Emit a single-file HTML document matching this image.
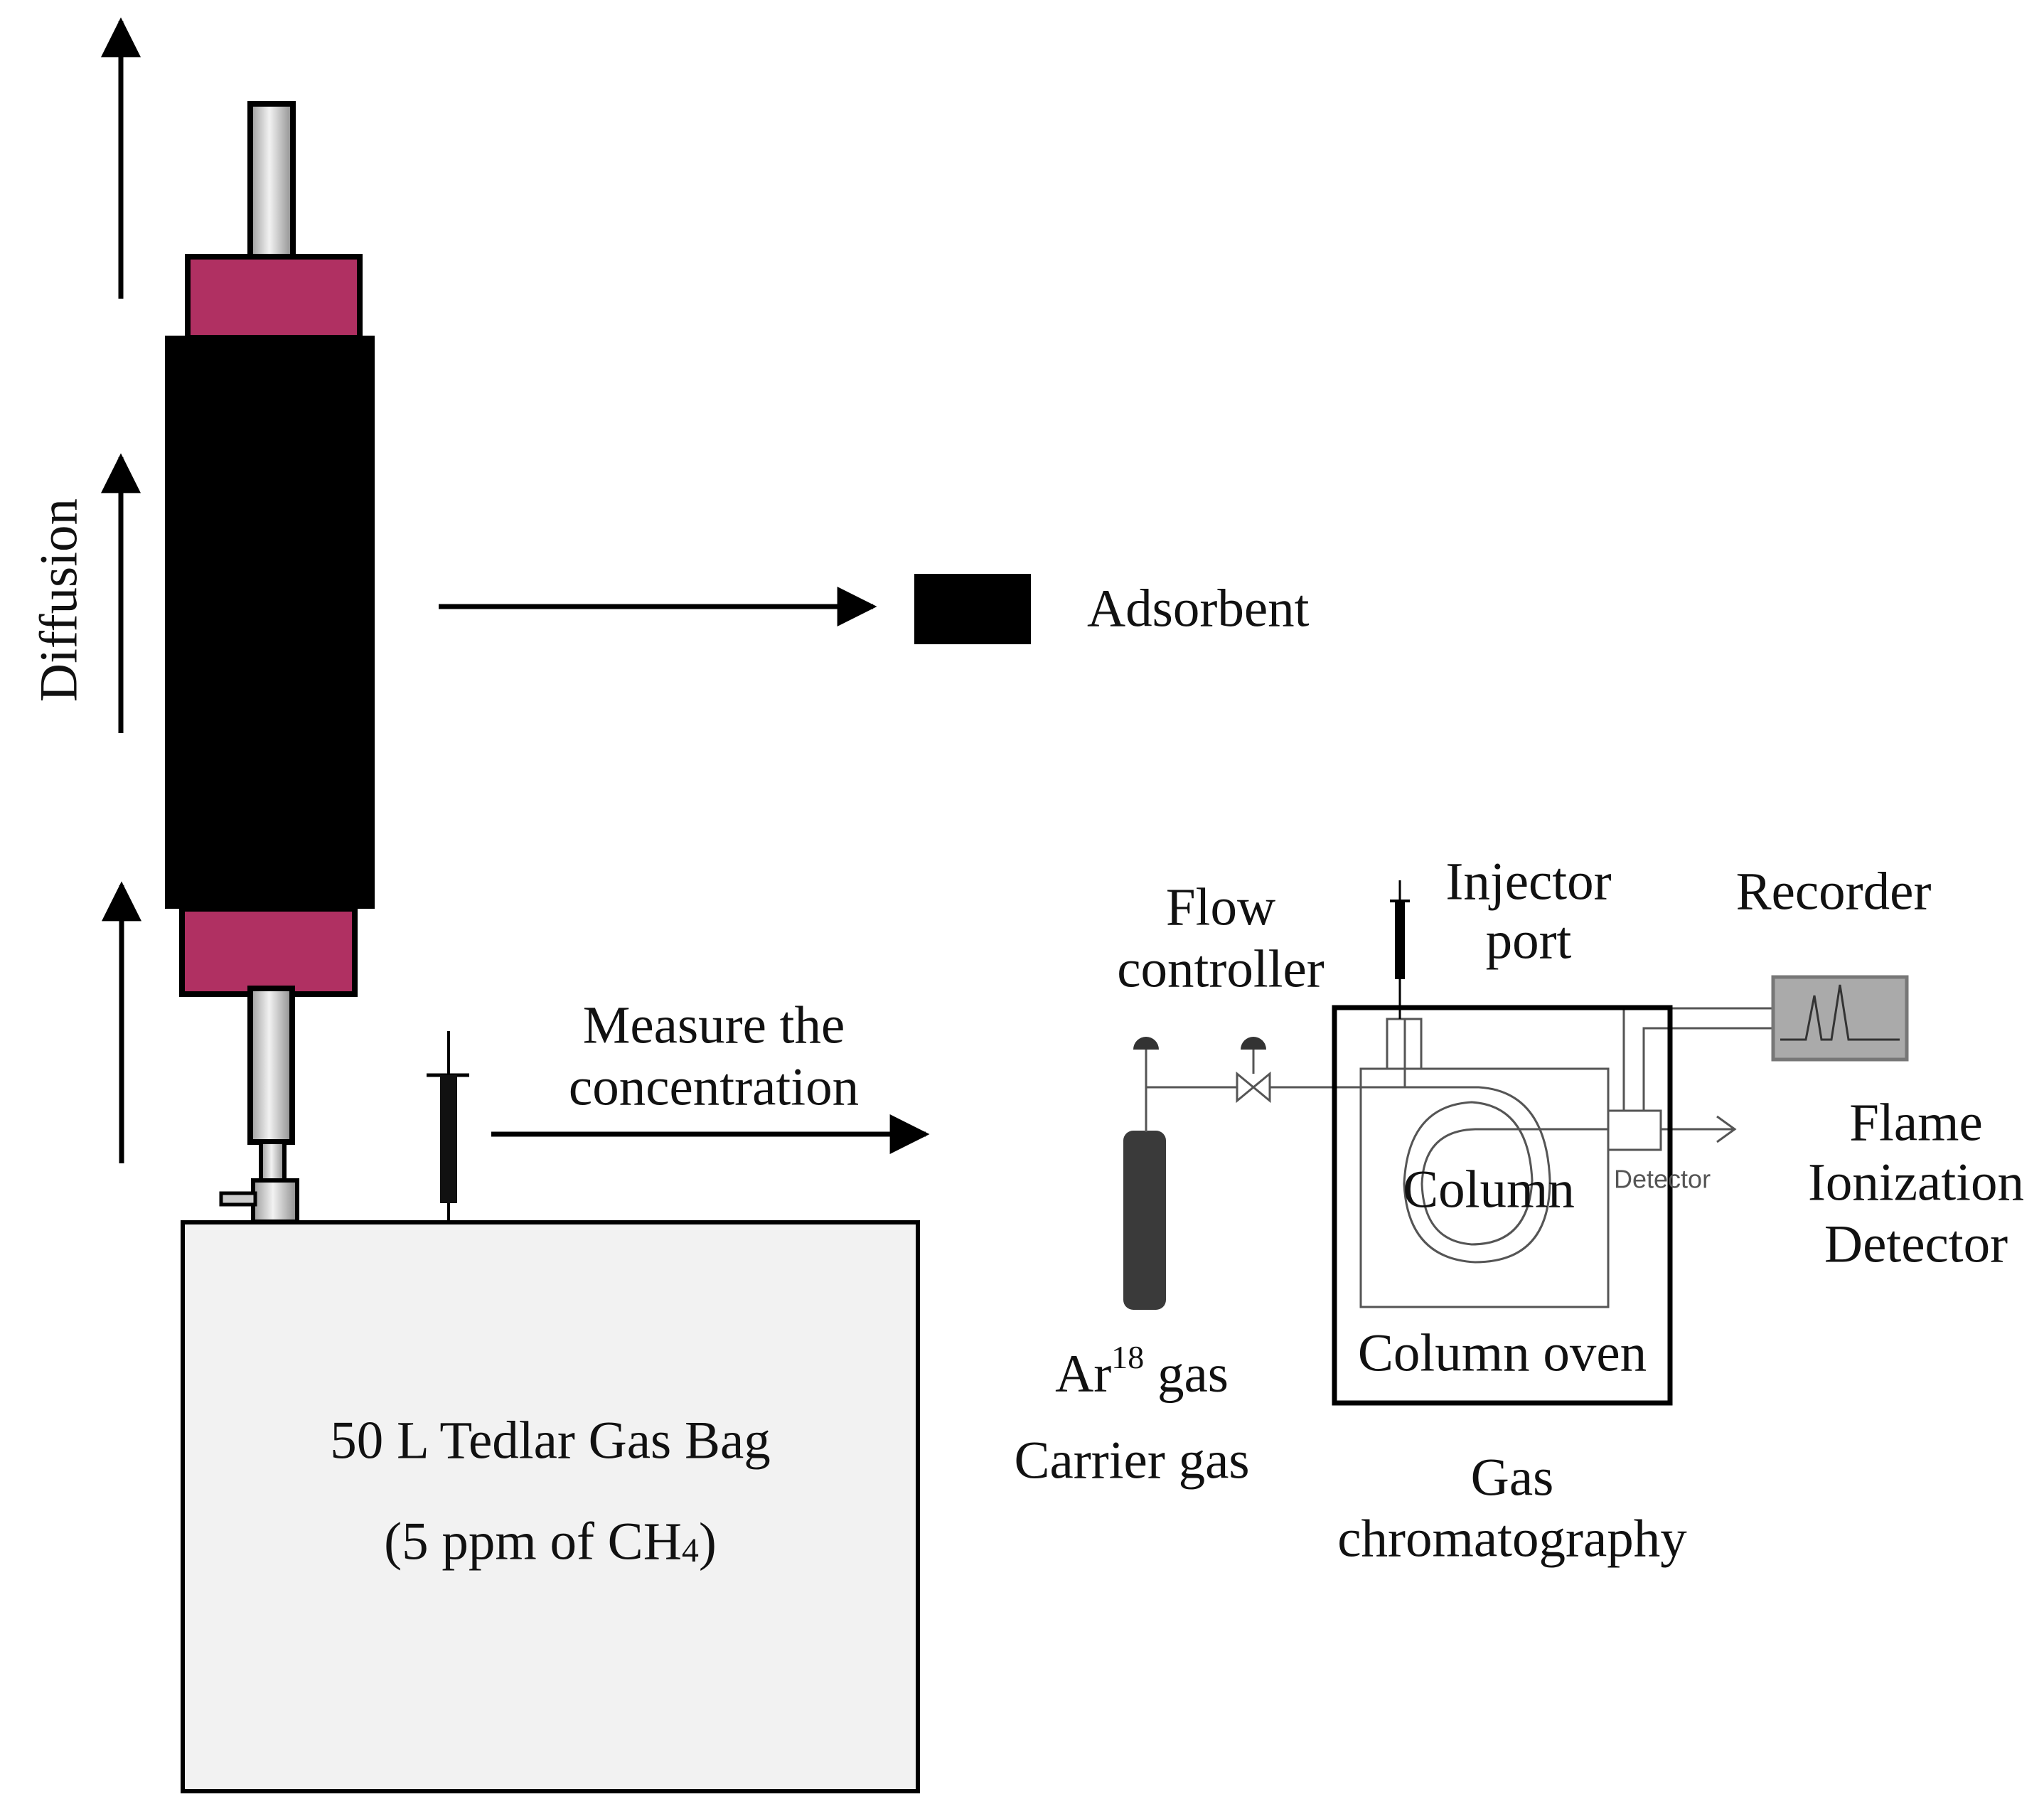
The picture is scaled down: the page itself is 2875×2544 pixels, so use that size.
<!DOCTYPE html>
<html><head><meta charset="utf-8"><style>
html,body{margin:0;padding:0;background:#fff;}
svg{display:block;}
text{font-family:"Liberation Serif",serif;font-size:75px;fill:#111;}
</style></head><body>
<svg width="2875" height="2544" viewBox="0 0 2875 2544" xmlns="http://www.w3.org/2000/svg">
<defs>
<linearGradient id="rod" x1="0" x2="1" y1="0" y2="0">
<stop offset="0" stop-color="#9a9a9a"/><stop offset="0.45" stop-color="#f2f2f2"/><stop offset="1" stop-color="#8c8c8c"/>
</linearGradient>
<marker id="ah" viewBox="0 0 10 10" refX="9" refY="5" markerWidth="8" markerHeight="8" markerUnits="strokeWidth" orient="auto">
<path d="M0,0 L10,5 L0,10 z" fill="#000"/></marker>
</defs>

<g stroke="#000" stroke-width="7" marker-end="url(#ah)">
<line x1="170" y1="420" x2="170" y2="30"/>
<line x1="170" y1="1031" x2="170" y2="643"/>
<line x1="171" y1="1636" x2="171" y2="1245"/>
<line x1="617" y1="853" x2="1228" y2="853"/>
<line x1="691" y1="1595" x2="1302" y2="1595"/>
</g>
<text x="83" y="844" text-anchor="middle" dominant-baseline="central" transform="rotate(-90 83 844)">Diffusion</text>

<rect x="352" y="146" width="60" height="222" fill="url(#rod)" stroke="#000" stroke-width="8"/>
<rect x="264" y="361" width="242" height="114" fill="#b03062" stroke="#000" stroke-width="8"/>
<rect x="232" y="472" width="295" height="806" fill="#000"/>
<rect x="256" y="1278" width="243" height="120" fill="#b03062" stroke="#000" stroke-width="8"/>
<rect x="352" y="1390" width="59" height="216" fill="url(#rod)" stroke="#000" stroke-width="8"/>
<rect x="367" y="1606" width="33" height="54" fill="url(#rod)" stroke="#000" stroke-width="6"/>
<rect x="356" y="1660" width="62" height="58" fill="url(#rod)" stroke="#000" stroke-width="6"/>
<rect x="311" y="1678" width="48" height="16" fill="#ccc" stroke="#000" stroke-width="5"/>

<rect x="257" y="1719" width="1034" height="800" fill="#f2f2f2" stroke="#000" stroke-width="6"/>
<text x="774" y="2026" text-anchor="middle" dominant-baseline="central">50 L Tedlar Gas Bag</text>
<text x="774" y="2168" text-anchor="middle" dominant-baseline="central">(5 ppm of CH<tspan font-size="48" dy="12">4</tspan><tspan dy="-12">)</tspan></text>

<line x1="631" y1="1450" x2="631" y2="1719" stroke="#000" stroke-width="4"/>
<line x1="600" y1="1512" x2="660" y2="1512" stroke="#000" stroke-width="5"/>
<rect x="619" y="1512" width="24" height="180" fill="#111"/>

<rect x="1286" y="807" width="164" height="99" fill="#000"/>
<text x="1529" y="856" dominant-baseline="central">Adsorbent</text>

<text x="1004" y="1442" text-anchor="middle" dominant-baseline="central">Measure the</text>
<text x="1004" y="1529" text-anchor="middle" dominant-baseline="central">concentration</text>

<rect x="1580" y="1590" width="60" height="252" rx="14" fill="#3a3a3a"/>
<g stroke="#555" stroke-width="3" fill="none">
<line x1="1612" y1="1466" x2="1612" y2="1592"/>
<line x1="1612" y1="1529" x2="1740" y2="1529"/>
<line x1="1763" y1="1466" x2="1763" y2="1510"/>
<path d="M1740,1510 L1786,1548 L1786,1510 L1740,1548 Z"/>
<line x1="1786" y1="1529" x2="2080" y2="1529"/>
<path d="M2080,1529 Q2175,1535 2180,1660 Q2180,1775 2075,1775 Q1980,1770 1975,1665 Q1980,1555 2070,1550 Q2150,1555 2155,1660 Q2150,1750 2070,1750 Q2003,1745 2000,1665 Q2003,1590 2075,1588 L2262,1588"/>
<line x1="1976" y1="1433" x2="1976" y2="1529"/>
<rect x="1951" y="1433" width="48" height="70"/>
<rect x="1914" y="1503" width="348" height="335"/>
<rect x="2262" y="1562" width="74" height="55"/>
<line x1="2336" y1="1588" x2="2438" y2="1588"/>
<polyline points="2415,1570 2440,1588 2415,1606"/>
<polyline points="2284,1562 2284,1418 2492,1418"/>
<polyline points="2312,1562 2312,1446 2492,1446"/>
</g>
<path d="M1594,1476 A18,18 0 0 1 1630,1476 Z" fill="#333"/>
<path d="M1745,1476 A18,18 0 0 1 1781,1476 Z" fill="#333"/>
<rect x="1877" y="1417" width="472" height="556" fill="none" stroke="#000" stroke-width="7"/>
<line x1="1969" y1="1238" x2="1969" y2="1433" stroke="#000" stroke-width="3"/>
<line x1="1955" y1="1267" x2="1983" y2="1267" stroke="#000" stroke-width="4"/>
<rect x="1962" y="1267" width="14" height="110" fill="#000"/>
<rect x="2494" y="1374" width="188" height="116" fill="#aaa" stroke="#777" stroke-width="5"/>
<polyline points="2504,1462 2540,1462 2552,1400 2562,1462 2576,1462 2588,1385 2600,1462 2672,1462" fill="none" stroke="#333" stroke-width="3"/>
<text x="2270" y="1658" dominant-baseline="central" style="font-family:'Liberation Sans',sans-serif;font-size:36px;fill:#555">Detector</text>

<g text-anchor="middle" dominant-baseline="central">
<text x="1717" y="1276">Flow</text>
<text x="1717" y="1363">controller</text>
<text x="2150" y="1240">Injector</text>
<text x="2150" y="1323">port</text>
<text x="2579" y="1254">Recorder</text>
<text x="2695" y="1579">Flame</text>
<text x="2695" y="1663">Ionization</text>
<text x="2695" y="1750">Detector</text>
<text x="2094" y="1673">Column</text>
<text x="2113" y="1903">Column oven</text>
<text x="1606" y="1932">Ar<tspan font-size="46" dy="-24">18</tspan><tspan dy="24"> gas</tspan></text>
<text x="1592" y="2054">Carrier gas</text>
<text x="2127" y="2078">Gas</text>
<text x="2127" y="2164">chromatography</text>
</g>
</svg>
</body></html>
